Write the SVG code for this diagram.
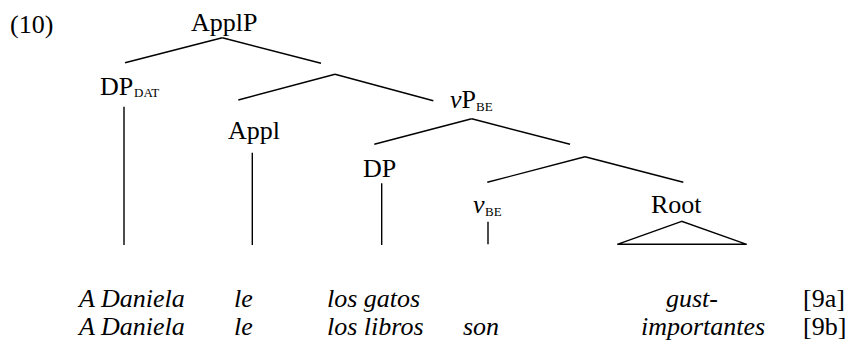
<svg xmlns="http://www.w3.org/2000/svg" width="848" height="341" viewBox="0 0 848 341">
<style>
text{font-family:"Liberation Serif","Times New Roman",serif;fill:#000;font-size:26px}
.sub{font-size:13px}
.it{font-style:italic}
line,polygon{stroke:#000;stroke-width:1.4;fill:none}
</style>
<rect width="848" height="341" fill="#fff"/>
<text x="10" y="33">(10)</text>
<g id="ApplP"><text x="191" y="31">ApplP</text></g>
<g id="DPDAT"><text x="100" y="95">DP<tspan class="sub" x="134" y="97">DAT</tspan></text></g>
<g id="Appl"><text x="228" y="139">Appl</text></g>
<g id="vPBE"><text x="450" y="108"><tspan class="it">v</tspan>P<tspan class="sub" x="476" y="111">BE</tspan></text></g>
<g id="DP"><text x="363" y="177">DP</text></g>
<g id="vBE"><text x="473" y="213"><tspan class="it">v</tspan><tspan class="sub" x="485" y="216">BE</tspan></text></g>
<g id="Root"><text x="651" y="213">Root</text></g>
<g id="connectors">
<line x1="125" y1="62.7" x2="222.3" y2="37.7"/>
<line x1="222.3" y1="37.7" x2="321" y2="63.3"/>
<line x1="238.3" y1="100" x2="335" y2="74.3"/>
<line x1="335" y1="74.3" x2="433.3" y2="100.7"/>
<line x1="374.3" y1="144.3" x2="471.7" y2="118.7"/>
<line x1="471.7" y1="118.7" x2="570" y2="144.3"/>
<line x1="487.3" y1="182.3" x2="585" y2="156.7"/>
<line x1="585" y1="156.7" x2="683.3" y2="182.3"/>
<line x1="124" y1="106.7" x2="124" y2="245"/>
<line x1="252.3" y1="152.7" x2="252.3" y2="245"/>
<line x1="381.7" y1="183.3" x2="381.7" y2="245"/>
<line x1="488" y1="221.7" x2="488" y2="244.3"/>
<polygon points="681.7,221.3 617.3,244.3 746.7,244.3"/>
</g>
<g id="examples">
<text class="it" x="79" y="307">A Daniela</text>
<text class="it" x="234" y="307">le</text>
<text class="it" x="327" y="307">los gatos</text>
<text class="it" x="666" y="307">gust-</text>
<text x="803" y="307">[9a]</text>
<text class="it" x="79" y="335">A Daniela</text>
<text class="it" x="234" y="335">le</text>
<text class="it" x="327" y="335">los libros</text>
<text class="it" x="463" y="335">son</text>
<text class="it" x="641" y="335">importantes</text>
<text x="803" y="335">[9b]</text>
</g>
</svg>
